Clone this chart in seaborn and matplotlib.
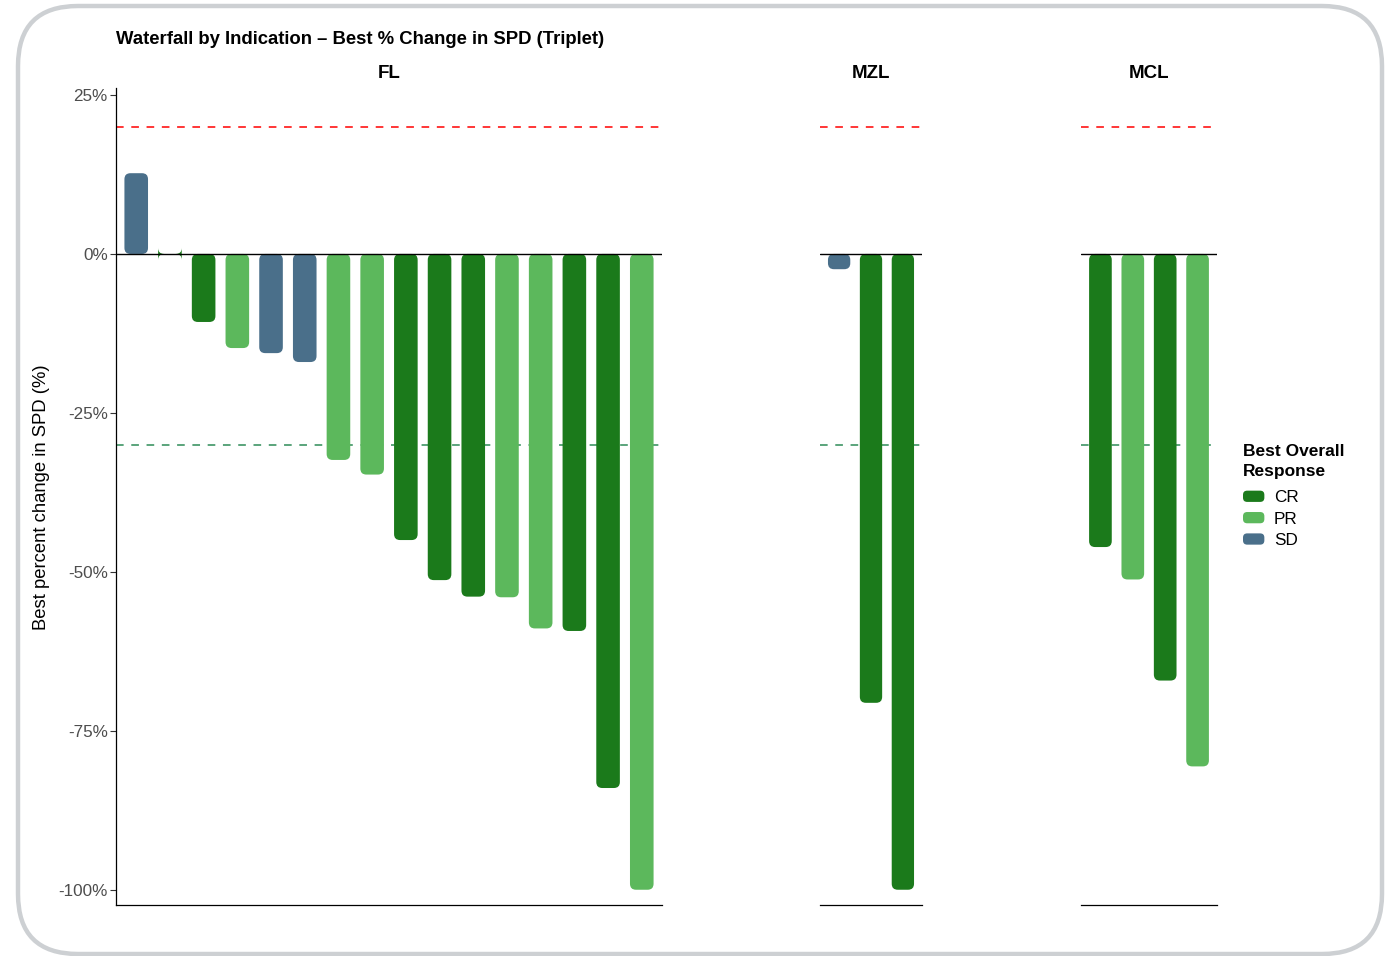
import numpy as np
import pandas as pd
import seaborn as sns
import matplotlib.pyplot as plt
from matplotlib.patches import FancyBboxPatch, Patch
from matplotlib.legend_handler import HandlerPatch

# data
fl_response = ["SD", "CR", "CR", "PR", "SD", "SD", "PR", "PR",
               "CR", "CR", "CR", "PR", "PR", "CR", "CR", "PR"]
fl_change = [12.7, 0.0, -10.7, -14.8, -15.6, -17.0, -32.4, -34.7,
             -45.0, -51.3, -53.9, -54.0, -58.9, -59.3, -84.0, -100.0]
mzl_response = ["SD", "CR", "CR"]
mzl_change = [-2.4, -70.6, -100.0]
mcl_response = ["CR", "PR", "CR", "PR"]
mcl_change = [-46.1, -51.2, -67.1, -80.6]

panels = ["FL", "MZL", "MCL"]
y_ticks = [25, 0, -25, -50, -75, -100]
pd_line = 20
pr_line = -30

palette = {"CR": "#1b7a1b", "PR": "#5cb85c", "SD": "#4a6f8a"}

rows = []
for ind, resp, chg in [("FL", fl_response, fl_change),
                       ("MZL", mzl_response, mzl_change),
                       ("MCL", mcl_response, mcl_change)]:
    for i, (r, c) in enumerate(zip(resp, chg)):
        rows.append({"indication": ind, "pid": f"{ind}{i + 1:02d}", "response": r, "change": c})
df = pd.DataFrame(rows)

sns.set_style("white")
plt.rcParams["font.family"] = ["Liberation Sans", "DejaVu Sans"]
plt.rcParams["text.color"] = "black"

W, H = 1388, 956
fig = plt.figure(figsize=(W / 100, H / 100), dpi=100)

# rounded frame around the whole card
bg = fig.add_axes([0, 0, 1, 1], zorder=-5)
bg.set_xlim(0, W)
bg.set_ylim(H, 0)
bg.axis("off")
bg.add_patch(FancyBboxPatch((18, 6), 1364, 948, boxstyle="round,pad=0,rounding_size=60",
                            fc="white", ec="#cdd0d3", lw=3.2))

panel_px = {"FL": (116, 662), "MZL": (820, 922), "MCL": (1081, 1217)}
top_px, bot_px = 88, 905
ylim = (-102.4, 26.1)
radius_px = 6

for ind in panels:
    sub = df[df["indication"] == ind]
    x0, x1 = panel_px[ind]
    ax = fig.add_axes([x0 / W, 1 - bot_px / H, (x1 - x0) / W, (bot_px - top_px) / H])
    sns.barplot(data=sub, x="pid", y="change", hue="response", palette=palette,
                order=list(sub["pid"]), dodge=False, width=0.7, saturation=1,
                legend=False, ax=ax)
    n = len(sub)
    ax.set_xlim(-0.6, n - 0.4)
    ax.set_ylim(*ylim)

    # swap square bars for rounded ones
    pxx = (x1 - x0) / (n - 0.4 + 0.6)
    pxy = (bot_px - top_px) / (ylim[1] - ylim[0])
    r = radius_px / pxx
    for bar in list(ax.patches):
        bx, by, bw, bh = bar.get_x(), bar.get_y(), bar.get_width(), bar.get_height()
        y_lo = min(by, by + bh)
        fc = bar.get_facecolor()
        bar.remove()
        ax.add_patch(FancyBboxPatch((bx, y_lo), bw, abs(bh),
                                    boxstyle=f"round,pad=0,rounding_size={r}",
                                    mutation_aspect=pxx / pxy, fc=fc, ec="none", zorder=2))

    ax.axhline(pd_line, color="red", lw=1.1, ls=(0, (5, 5)), zorder=1)
    ax.axhline(pr_line, color="#2e8b57", lw=1.1, ls=(0, (5, 5)), zorder=1)
    ax.axhline(0, color="black", lw=1.0, zorder=3)

    ax.set_xlabel("")
    ax.set_ylabel("")
    ax.set_xticks([])
    sns.despine(ax=ax, top=True, right=True, left=(ind != "FL"))
    ax.spines["bottom"].set_color("black")
    ax.spines["bottom"].set_linewidth(0.9)
    if ind == "FL":
        ax.spines["left"].set_color("black")
        ax.spines["left"].set_linewidth(0.9)
        ax.set_yticks(y_ticks)
        ax.set_yticklabels([f"{t}%" for t in y_ticks])
        ax.tick_params(axis="y", left=True, length=4, width=0.8, color="#333333",
                       labelsize=12.3, labelcolor="#4d4d4d", pad=2)
    else:
        ax.set_yticks([])
    fig.text((x0 + x1) / 2 / W, 1 - 73 / H, ind, ha="center", va="center",
             fontsize=13.5, fontweight="bold", color="black")

fig.text(116 / W, 1 - 39 / H, "Waterfall by Indication \u2013 Best % Change in SPD (Triplet)",
         ha="left", va="center", fontsize=13.3, fontweight="bold", color="black")
fig.text(42 / W, 1 - 497 / H, "Best percent change in SPD (%)", rotation=90,
         ha="center", va="center", fontsize=13.3, color="black")


class RoundHandler(HandlerPatch):
    def create_artists(self, legend, orig_handle, xdescent, ydescent, width, height, fontsize, trans):
        p = FancyBboxPatch((-xdescent, -ydescent + height * 0.05), width, height * 0.9,
                           boxstyle="round,pad=0,rounding_size=3",
                           fc=orig_handle.get_facecolor(), ec="none", transform=trans)
        return [p]


fig.text(1243 / W, 1 - 444 / H, "Best Overall\nResponse", ha="left", va="top",
         fontsize=12.5, fontweight="bold", color="black", linespacing=1.4)

handles = [Patch(fc=palette[k], label=k) for k in ["CR", "PR", "SD"]]
leg = fig.legend(handles=handles, loc="center left",
                 bbox_to_anchor=(1243 / W, 1 - 519 / H), frameon=False,
                 borderpad=0, borderaxespad=0,
                 fontsize=12.3, handlelength=1.25, handleheight=0.75,
                 handletextpad=0.55, labelspacing=0.36,
                 handler_map={Patch: RoundHandler()})

fig.savefig("out.png", dpi=100)
